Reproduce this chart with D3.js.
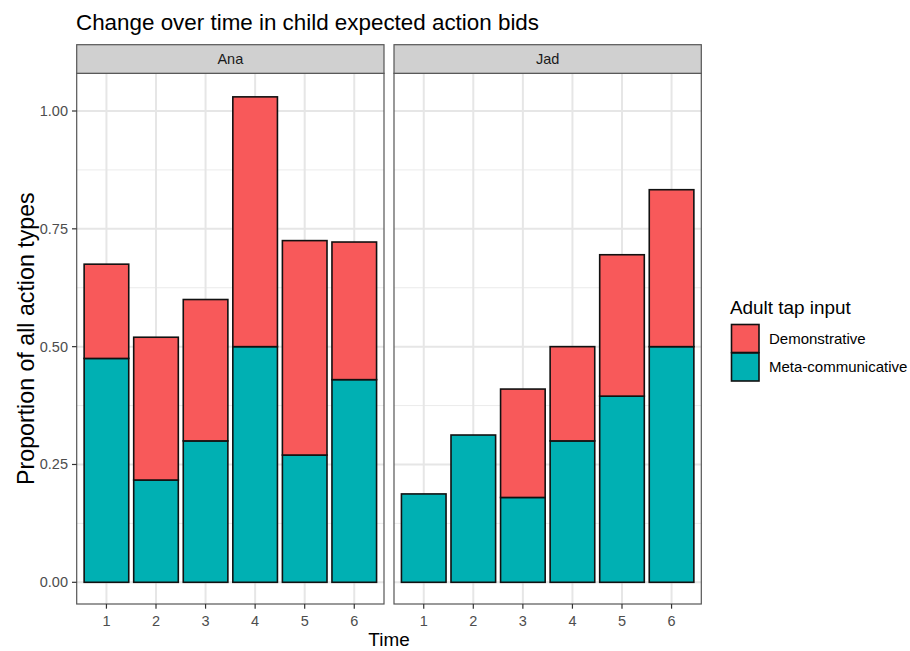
<!DOCTYPE html>
<html><head><meta charset="utf-8">
<script src="https://cdn.jsdelivr.net/npm/d3@7"></script>
<style>
body{margin:0;background:#fff;}
svg{display:block;font-family:"Liberation Sans",Arial,Helvetica,sans-serif;}
</style></head>
<body><svg id="chart" width="910" height="651"></svg>
<script>
const facets = ["Ana", "Jad"];
const times = ["1", "2", "3", "4", "5", "6"];
const seriesNames = ["Demonstrative", "Meta-communicative"];
const colors = ["#F8595A", "#00B0B3"];
// Meta-communicative (bottom) and Demonstrative (stacked on top) values per facet
const anaMeta = [0.475, 0.217, 0.300, 0.500, 0.270, 0.430];
const anaDemo = [0.200, 0.303, 0.300, 0.530, 0.455, 0.292];
const jadMeta = [0.1875, 0.3125, 0.180, 0.300, 0.395, 0.500];
const jadDemo = [0.000, 0.000, 0.230, 0.200, 0.300, 0.333];
const yTicks = [0, 0.25, 0.5, 0.75, 1.0];
const yMinor = [0.125, 0.375, 0.625, 0.875];

const data = {Ana: {meta: anaMeta, demo: anaDemo}, Jad: {meta: jadMeta, demo: jadDemo}};

const svg = d3.select("#chart");
const panelTop = 73.3, panelBottom = 604;
const panelXs = [[76.7, 384], [394, 701.3]];
const stripTop = 44.7;

const y = d3.scaleLinear().domain([0, 1]).range([582.3, 111]);

svg.append("text").attr("x", 76).attr("y", 30).attr("font-size", 22.4).attr("fill", "#000")
  .text("Change over time in child expected action bids");

facets.forEach((f, i) => {
  const [x0, x1] = panelXs[i];
  const s = (x1 - x0) / 6.2;
  const xs = d3.scaleLinear().domain([0.4, 6.6]).range([x0, x1]);
  const cx = t => xs(+t);
  const bw = 0.9 * s;
  const g = svg.append("g");
  g.append("rect").attr("x", x0).attr("y", panelTop).attr("width", x1 - x0).attr("height", panelBottom - panelTop).attr("fill", "#fff");
  yMinor.forEach(v => g.append("line").attr("x1", x0).attr("x2", x1).attr("y1", y(v)).attr("y2", y(v)).attr("stroke", "#EBEBEB").attr("stroke-width", 1));
  yTicks.forEach(v => g.append("line").attr("x1", x0).attr("x2", x1).attr("y1", y(v)).attr("y2", y(v)).attr("stroke", "#E6E6E6").attr("stroke-width", 2));
  times.forEach(t => g.append("line").attr("x1", cx(t)).attr("x2", cx(t)).attr("y1", panelTop).attr("y2", panelBottom).attr("stroke", "#E6E6E6").attr("stroke-width", 2));
  const d = data[f];
  times.forEach((t, j) => {
    const m = d.meta[j], dm = d.demo[j];
    g.append("rect").attr("x", cx(t) - bw / 2).attr("width", bw).attr("y", y(m)).attr("height", y(0) - y(m))
      .attr("fill", colors[1]).attr("stroke", "#111").attr("stroke-width", 1.6);
    if (dm > 0) g.append("rect").attr("x", cx(t) - bw / 2).attr("width", bw).attr("y", y(m + dm)).attr("height", y(m) - y(m + dm))
      .attr("fill", colors[0]).attr("stroke", "#111").attr("stroke-width", 1.6);
  });
  g.append("rect").attr("x", x0).attr("y", panelTop).attr("width", x1 - x0).attr("height", panelBottom - panelTop)
    .attr("fill", "none").attr("stroke", "#555").attr("stroke-width", 1.2);
  g.append("rect").attr("x", x0).attr("y", stripTop).attr("width", x1 - x0).attr("height", panelTop - stripTop)
    .attr("fill", "#D0D0D0").attr("stroke", "#555").attr("stroke-width", 1.2);
  g.append("text").attr("x", (x0 + x1) / 2).attr("y", (stripTop + panelTop) / 2 + 5).attr("text-anchor", "middle")
    .attr("font-size", 14.5).attr("fill", "#1a1a1a").text(f);
  times.forEach(t => {
    g.append("line").attr("x1", cx(t)).attr("x2", cx(t)).attr("y1", panelBottom).attr("y2", panelBottom + 4.7).attr("stroke", "#333").attr("stroke-width", 1.2);
    g.append("text").attr("x", cx(t)).attr("y", 625.5).attr("text-anchor", "middle").attr("font-size", 14.5).attr("fill", "#4d4d4d").text(t);
  });
  if (i === 0) {
    yTicks.forEach(v => {
      g.append("line").attr("x1", x0 - 4.7).attr("x2", x0).attr("y1", y(v)).attr("y2", y(v)).attr("stroke", "#333").attr("stroke-width", 1.2);
      g.append("text").attr("x", 68).attr("y", y(v) + 5).attr("text-anchor", "end").attr("font-size", 14.5).attr("fill", "#4d4d4d").text(d3.format(".2f")(v));
    });
  }
});

svg.append("text").attr("x", (76.7 + 701.3) / 2).attr("y", 646).attr("text-anchor", "middle").attr("font-size", 18.9).attr("fill", "#000").text("Time");
svg.append("text").attr("transform", "translate(33.5," + ((panelTop + panelBottom) / 2) + ") rotate(-90)").attr("text-anchor", "middle")
  .attr("font-size", 23.2).attr("fill", "#000").text("Proportion of all action types");

const lg = svg.append("g");
lg.append("text").attr("x", 730).attr("y", 313.5).attr("font-size", 18.9).attr("fill", "#000").text("Adult tap input");
seriesNames.forEach((n, k) => {
  const yy = 324.5 + k * 28.5;
  lg.append("rect").attr("x", 731.5).attr("y", yy).attr("width", 27.5).attr("height", 28).attr("fill", colors[k]).attr("stroke", "#111").attr("stroke-width", 1.6);
  lg.append("text").attr("x", 769).attr("y", yy + 19.2).attr("font-size", 15).attr("fill", "#000").text(n);
});
</script></body></html>
